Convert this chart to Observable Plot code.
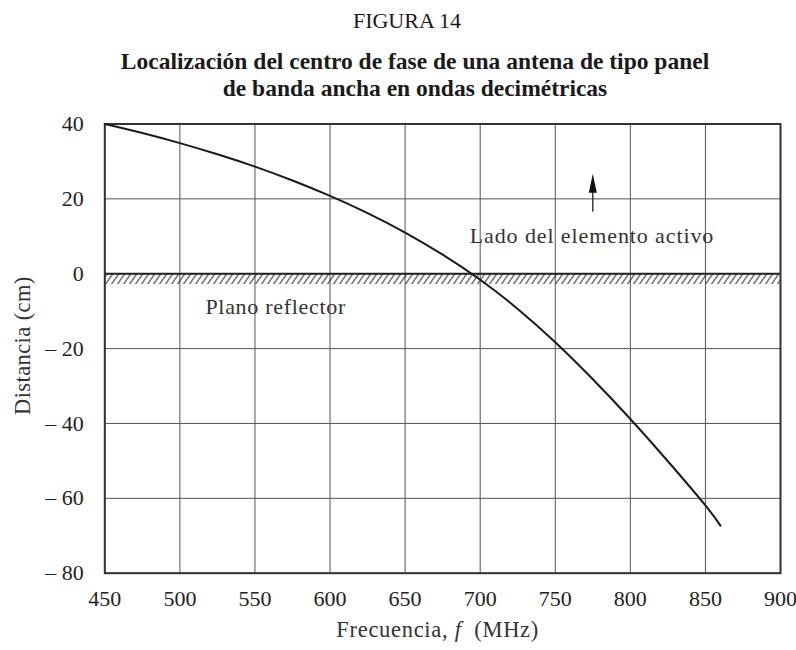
<!DOCTYPE html>
<html>
<head>
<meta charset="utf-8">
<script src="https://cdn.jsdelivr.net/npm/d3@7"></script>
<script src="https://cdn.jsdelivr.net/npm/@observablehq/plot@0.6"></script>
<style>
  html, body { margin: 0; padding: 0; background: #fff; }
  #page { width: 796px; height: 650px; position: relative; font-family: "Liberation Serif", "DejaVu Serif", serif; color: #1a1a1a; }
  #head { height: 105px; position: relative; }
  #fig { position: absolute; top: 9px; left: 18px; right: 0; text-align: center; font-size: 22px; line-height: 24px; }
  #title { position: absolute; top: 48px; left: 34px; right: 0; text-align: center; font-size: 23.5px; line-height: 27px; font-weight: bold; }
</style>
</head>
<body>
<div id="page">
  <div id="head">
    <div id="fig">FIGURA 14</div>
    <div id="title">Localización del centro de fase de una antena de tipo panel<br>de banda ancha en ondas decimétricas</div>
  </div>
  <div id="chart"></div>
</div>
<script>
// Data
const freq = [450, 475, 500, 525, 550, 575, 600, 625, 650, 675, 700, 725, 750, 775, 800, 825, 850, 860];
const dist = [40, 37.6, 34.9, 31.9, 28.6, 24.9, 20.8, 16.2, 11.0, 5.1, -1.6, -9.4, -18.3, -28.2, -38.8, -50.1, -61.9, -67.3];

const xTicks = [450, 500, 550, 600, 650, 700, 750, 800, 850, 900];
const yTicks = [40, 20, 0, -20, -40, -60, -80];

const xLabel = "Frecuencia, f  (MHz)";
const yLabel = "Distancia (cm)";

const activeLabel = ["Lado del elemento activo"];
const activeLabelX = [693];
const activeLabelY = [10];

const reflectorLabel = ["Plano reflector"];
const reflectorLabelX = [517];
const reflectorLabelY = [-8.8];

// reflector hatch band (frequency extent, distance extent)
const bandX = [450, 900];
const bandY = [-2.9, 0];

// arrow: x, shaft bottom, head base, tip
const arrowX = [775];
const arrowShaft = [16.4, 21.7];
const arrowTip = [26.7];

const curve = freq.map((f, i) => ({f, d: dist[i]}));

const headSymbol = {
  draw(ctx) {
    ctx.moveTo(0, 0);
    ctx.lineTo(-4, 19);
    ctx.lineTo(4, 19);
    ctx.closePath();
  }
};

const chart = Plot.plot({
  width: 796,
  height: 545,
  marginTop: 18.5,
  marginBottom: 77.3,
  marginLeft: 104.3,
  marginRight: 16,
  style: { fontFamily: "'Liberation Serif', serif", fontSize: "22px", background: "#fff", color: "#222" },
  x: { domain: [450, 900], ticks: xTicks, tickSize: 0, tickPadding: 17, label: null },
  y: { domain: [-80, 40], ticks: yTicks, tickSize: 0, tickPadding: 21, label: null,
       tickFormat: d => d < 0 ? `\u2013 ${-d}` : `${d}` },
  marks: [
    Plot.ruleX(xTicks, { stroke: "#555", strokeWidth: 1 }),
    Plot.ruleY(yTicks, { stroke: "#555", strokeWidth: 1 }),
    Plot.rect([{ x1: bandX[0], x2: bandX[1], y1: bandY[0], y2: bandY[1] }],
      { x1: "x1", x2: "x2", y1: "y1", y2: "y2", fill: "url(#hatch)" }),
    Plot.ruleY([0], { stroke: "#222", strokeWidth: 2.2 }),
    Plot.frame({ stroke: "#333", strokeWidth: 2 }),
    Plot.line(curve, { x: "f", y: "d", curve: "natural", stroke: "#1a1a1a", strokeWidth: 2 }),
    Plot.ruleX(arrowX, { y1: arrowShaft[0], y2: arrowShaft[1], stroke: "#222", strokeWidth: 1.3 }),
    Plot.dot(arrowX, { x: d => d, y: () => arrowTip[0], symbol: headSymbol, r: 5, fill: "#111", stroke: null }),
    Plot.text(activeLabel, { x: (d, i) => activeLabelX[i], y: (d, i) => activeLabelY[i], text: d => d,
      textAnchor: "start", fontSize: 22, fill: "#333" }),
    Plot.text(reflectorLabel, { x: (d, i) => reflectorLabelX[i], y: (d, i) => reflectorLabelY[i], text: d => d,
      textAnchor: "start", fontSize: 22, fill: "#333" }),
    Plot.text([xLabel], { frameAnchor: "bottom", dx: -5, dy: 64, text: d => d, fontSize: 22.5, fill: "#333" }),
    Plot.text([yLabel], { frameAnchor: "left", textAnchor: "middle", dx: -82, dy: -3, rotate: -90, text: d => d, fontSize: 22.5, fill: "#333" })
  ]
});

// hatch pattern definition
const ns = "http://www.w3.org/2000/svg";
const defs = document.createElementNS(ns, "defs");
defs.innerHTML = `<pattern id="hatch" patternUnits="userSpaceOnUse" width="6" height="12" patternTransform="skewX(-35)">
  <line x1="3" y1="0" x2="3" y2="12" stroke="#222" stroke-width="1.2"/></pattern>`;
chart.insertBefore(defs, chart.firstChild);

// letter spacing for annotations and italic f
chart.querySelectorAll("text").forEach(t => {
  if (t.textContent === reflectorLabel[0]) t.setAttribute("letter-spacing", "0.7");
  if (t.textContent === activeLabel[0]) t.setAttribute("letter-spacing", "0.9");
  if (t.textContent === xLabel) {
    t.textContent = "";
    t.setAttribute("letter-spacing", "0.7");
    const a = document.createElementNS(ns, "tspan"); a.textContent = "Frecuencia, ";
    const b = document.createElementNS(ns, "tspan"); b.textContent = "f"; b.setAttribute("font-style", "italic");
    const c = document.createElementNS(ns, "tspan"); c.textContent = "\u00a0\u00a0(MHz)";
    t.append(a, b, c);
  }
  if (t.textContent === yLabel) t.setAttribute("letter-spacing", "0.4");
});

document.getElementById("chart").appendChild(chart);
</script>
</body>
</html>
